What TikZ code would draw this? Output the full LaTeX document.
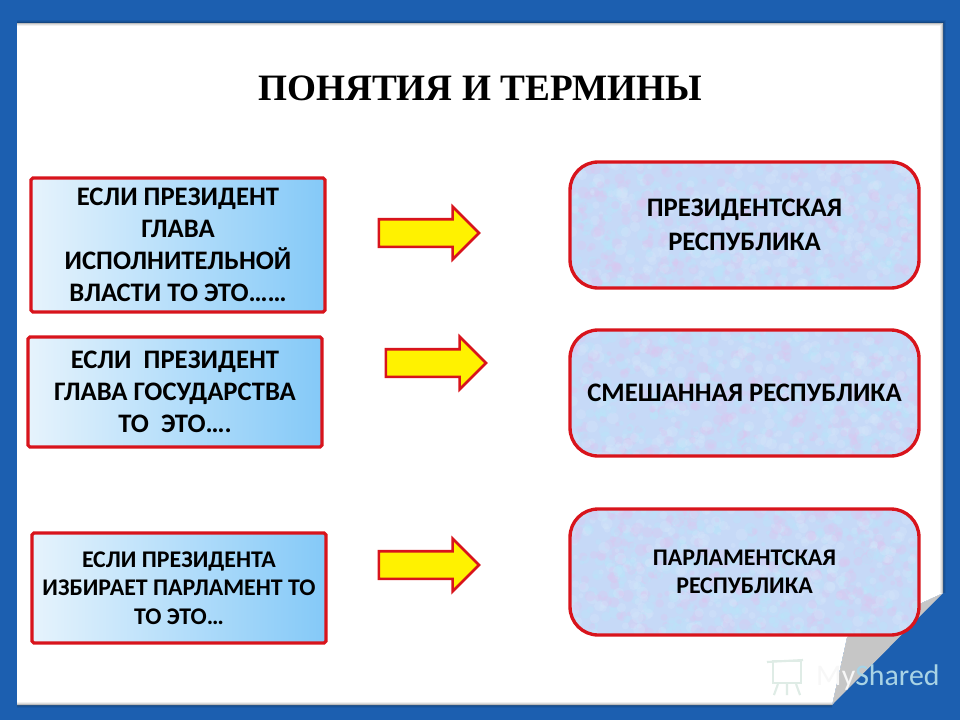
\documentclass[tikz,border=0pt]{standalone}
\usepackage{fontspec}
\setmainfont{Carlito}
\newfontfamily\titlefont{Liberation Serif}
\usetikzlibrary{shapes.arrows,positioning,calc}
\definecolor{slideblue}{HTML}{1C5FB0}
\definecolor{boxred}{HTML}{D8141C}
\definecolor{skyright}{HTML}{84C9F8}
\definecolor{skyleft}{HTML}{E6F3FC}
\definecolor{paperbase}{HTML}{C6D9F7}
\definecolor{paperpink}{HTML}{DCC6F0}
\definecolor{papercyan}{HTML}{B8E6FA}
\definecolor{paperpale}{HTML}{D6E6FA}
\definecolor{markgreen}{HTML}{DFECE6}
\newcommand{\mottle}{%
    \fill[paperbase] (path picture bounding box.south west) rectangle (path picture bounding box.north east);
    \foreach \i in {1,...,900}{
        \pgfmathsetmacro{\mx}{rnd*360}
        \pgfmathsetmacro{\my}{rnd*135}
        \pgfmathsetmacro{\mr}{2+rnd*4}
        \pgfmathtruncatemacro{\mk}{mod(\i,3)}
        \ifnum\mk=0 \def\mc{paperpink}\fi
        \ifnum\mk=1 \def\mc{papercyan}\fi
        \ifnum\mk=2 \def\mc{paperpale}\fi
        \fill[\mc, opacity=0.35] ($(path picture bounding box.north west)+(\mx,\my)$) circle (\mr);
    }%
}
\begin{document}
\begin{tikzpicture}[
    x=0.02cm, y=-0.02cm,
    leftbox/.style={rectangle, rounded corners=1pt, draw=boxred, line width=1.8pt, left color=skyleft, right color=skyright, minimum width=5.88cm, align=center, inner sep=0pt},
    rightbox/.style={rectangle, rounded corners=0.56cm, draw=boxred, line width=1.9pt, minimum width=6.98cm, minimum height=2.52cm, align=center, inner sep=0pt, path picture={\mottle}},
    blockarrow/.style={single arrow, draw=boxred, fill=yellow, line width=1.5pt, inner sep=0.25cm, minimum width=1.0cm, minimum height=2.0cm, single arrow head extend=0.25cm, single arrow tip angle=90},
    bigtext/.style={font=\bfseries\fontsize{15.2}{18.2}\selectfont},
    smalltext/.style={font=\bfseries\fontsize{13.6}{16.2}\selectfont}
]
    % Slide background
    \fill[slideblue] (0,0) rectangle (960,720);
    \useasboundingbox (0,0) rectangle (960,720);

    % Turned-up corner of the page
    \coordinate (cornerA) at (943,593);
    \coordinate (cornerB) at (847,637);
    \coordinate (cornerC) at (832,705);
    \fill[gray!45] (cornerA) -- (cornerB) -- (cornerC) -- cycle;

    % White page with soft edge
    \fill[white] (17,23) -- (943,23) -- (cornerA) -- (cornerB) -- (cornerC) -- (17,705) -- cycle;
    \foreach \w/\o in {3pt/0.06, 2pt/0.08, 1pt/0.14}{
        \draw[black, line width=\w, opacity=\o] (17,23) -- (943,23) -- (cornerA) (cornerC) -- (17,705) -- cycle;
    }

    % Title
    \node[font=\titlefont\bfseries\fontsize{21.2}{25}\selectfont] (title) at (480,88) {ПОНЯТИЯ И ТЕРМИНЫ};

    % Left boxes
    \node[leftbox, minimum height=2.68cm, bigtext] (presexec) at (178,245) {ЕСЛИ ПРЕЗИДЕНТ\\ГЛАВА\\ИСПОЛНИТЕЛЬНОЙ\\ВЛАСТИ ТО ЭТО\dots\dots};
    \node[leftbox, minimum height=2.2cm, bigtext] (preshead) at (175,392) {ЕСЛИ~~ПРЕЗИДЕНТ\\ГЛАВА ГОСУДАРСТВА\\ТО~~ЭТО\dots.};
    \node[leftbox, minimum height=2.2cm, smalltext] (presparl) at (179,588) {ЕСЛИ ПРЕЗИДЕНТА\\ИЗБИРАЕТ ПАРЛАМЕНТ ТО\\ТО ЭТО\dots};

    % Right boxes
    \pgfmathsetseed{4711}
    \node[rightbox, bigtext] (respres) at (744.5,225) {ПРЕЗИДЕНТСКАЯ\\[1pt]РЕСПУБЛИКА};
    \node[rightbox, bigtext] (resmix) at (744.5,393) {СМЕШАННАЯ РЕСПУБЛИКА};
    \node[rightbox, smalltext] (resparl) at (744.5,572) {ПАРЛАМЕНТСКАЯ\\РЕСПУБЛИКА};

    % Block arrows
    \node[blockarrow] (arrowone) at (422,233) {};
    \node[blockarrow] (arrowtwo) at (429,363) {};
    \node[blockarrow] (arrowthree) at (422,565) {};

    % Watermark
    \node[font=\fontsize{17}{20}\selectfont, text=white!65!cyan!80!gray, anchor=base west] (mark) at (810,685) {\textcolor{gray!6}{My}Shared};
    \node[draw=markgreen, line width=1.2pt, minimum width=0.56cm, minimum height=0.44cm, inner sep=0pt] (markicon) at (787,672) {};
    \draw[markgreen, line width=1.2pt] (767,662) -- (803,660);
    \draw[markgreen, line width=1.2pt] (markicon.south west) ++(6,0) -- ++(-4,11) (markicon.south) -- ++(0,11) (markicon.south east) ++(-6,0) -- ++(4,11);
\end{tikzpicture}
\end{document}
